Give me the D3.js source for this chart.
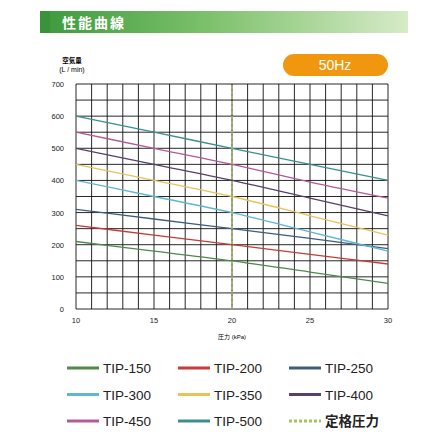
<!DOCTYPE html>
<html lang="ja">
<head>
<meta charset="UTF-8" />
<script src="https://d3js.org/d3.v7.min.js"></script>
<style>
  body { margin: 0; background: #fff; }
  text { font-family: "Liberation Sans", "Noto Sans CJK JP", sans-serif; }
</style>
</head>
<body>
<svg id="chart" width="445" height="445"></svg>
<script>
// data
const pressures = [10, 15, 20, 25, 30];
const models = ["TIP-150", "TIP-200", "TIP-250", "TIP-300", "TIP-350", "TIP-400", "TIP-450", "TIP-500"];
const colors = ["#4e8a4a", "#c83a3a", "#3e5c7e", "#5bb8d0", "#e6c45a", "#55416a", "#b35a98", "#3a9090"];
const flows = [
  [210, 180, 150, 115, 80],
  [260, 230, 200, 170, 140],
  [310, 280, 250, 220, 188],
  [400, 350, 300, 240, 180],
  [450, 400, 350, 290, 230],
  [500, 450, 400, 345, 290],
  [550, 500, 450, 395, 345],
  [600, 550, 500, 450, 400]
];
const yTicks = [0, 100, 200, 300, 400, 500, 600, 700];
const xTicks = [10, 15, 20, 25, 30];
const ratedPressure = 20;

const svg = d3.select("#chart");

// header bar
const grad = svg.append("defs").append("linearGradient").attr("id", "hg");
grad.append("stop").attr("offset", "0%").attr("stop-color", "#3c9a3c");
grad.append("stop").attr("offset", "45%").attr("stop-color", "#7cc06a");
grad.append("stop").attr("offset", "100%").attr("stop-color", "#d6ebc8");
svg.append("rect").attr("x", 40).attr("y", 11).attr("width", 368).attr("height", 22).attr("fill", "url(#hg)");
svg.append("rect").attr("x", 40).attr("y", 11).attr("width", 10).attr("height", 22).attr("fill", "#3a923a");
svg.append("text").attr("x", 62).attr("y", 28).attr("fill", "#fff")
  .attr("font-family", "Noto Sans CJK JP")
  .attr("font-size", 14).attr("font-weight", "bold").attr("letter-spacing", 2).text("性能曲線");

// 50Hz pill
svg.append("rect").attr("x", 283).attr("y", 54).attr("width", 105).attr("height", 22).attr("rx", 11)
  .attr("fill", "#f0960f");
svg.append("text").attr("x", 335).attr("y", 70).attr("text-anchor", "middle").attr("fill", "#fff")
  .attr("font-size", 14).text("50Hz");

const x = d3.scaleLinear().domain([10, 30]).range([76, 388]);
const y = d3.scaleLinear().domain([0, 700]).range([309, 84]);

// grid
const g = svg.append("g");
g.selectAll(".vl").data(d3.range(10, 31, 1)).enter().append("line")
  .attr("x1", d => x(d)).attr("x2", d => x(d)).attr("y1", y(0)).attr("y2", y(700))
  .attr("stroke", "#111").attr("stroke-width", 0.9);
g.selectAll(".hl").data(d3.range(0, 701, 50)).enter().append("line")
  .attr("x1", x(10)).attr("x2", x(30)).attr("y1", d => y(d)).attr("y2", d => y(d))
  .attr("stroke", "#111").attr("stroke-width", 0.9);

// axis labels
svg.selectAll(".yt").data(yTicks).enter().append("text")
  .attr("x", 64).attr("y", d => y(d) + 3).attr("text-anchor", "end")
  .attr("font-size", 7.5).attr("fill", "#222").text(d => d);
svg.selectAll(".xt").data(xTicks).enter().append("text")
  .attr("x", d => x(d)).attr("y", 323).attr("text-anchor", "middle")
  .attr("font-size", 7.5).attr("fill", "#222").text(d => d);
svg.append("text").attr("x", 72).attr("y", 63).attr("text-anchor", "middle").attr("font-size", 6.5)
  .attr("font-family", "Noto Sans CJK JP").attr("font-weight", "bold").text("空気量");
svg.append("text").attr("x", 72).attr("y", 72).attr("text-anchor", "middle").attr("font-size", 7).text("(L / min)");
svg.append("text").attr("x", 232).attr("y", 339).attr("text-anchor", "middle").attr("font-size", 6)
  .attr("font-family", "Noto Sans CJK JP").text("圧力 (kPa)");

// curves
const line = d3.line().x((d, i) => x(pressures[i])).y(d => y(d)).curve(d3.curveMonotoneX);
svg.selectAll(".curve").data(flows).enter().append("path")
  .attr("d", line).attr("fill", "none")
  .attr("stroke", (d, i) => colors[i]).attr("stroke-width", 1.3);

// rated pressure
svg.append("line").attr("x1", x(ratedPressure)).attr("x2", x(ratedPressure))
  .attr("y1", y(0)).attr("y2", y(700))
  .attr("stroke", "#a8c060").attr("stroke-width", 1.5).attr("stroke-dasharray", "3,2");

// legend
const legendItems = models.map((m, i) => ({ name: m, color: colors[i], dash: null }))
  .concat([{ name: "定格圧力", color: "#a8c060", dash: "3,2", bold: true }]);
const lg = svg.selectAll(".lg").data(legendItems).enter().append("g")
  .attr("transform", (d, i) => `translate(${67 + (i % 3) * 111},${368 + Math.floor(i / 3) * 26.5})`);
lg.append("line").attr("x1", 0).attr("x2", 32).attr("y1", 0).attr("y2", 0)
  .attr("stroke", d => d.color).attr("stroke-width", 3).attr("stroke-dasharray", d => d.dash);
lg.append("text").attr("x", 36).attr("y", 5).attr("font-size", 13.5)
  .attr("font-family", d => d.bold ? "Noto Sans CJK JP" : null)
  .attr("font-weight", d => d.bold ? "bold" : "normal").attr("fill", "#222").text(d => d.name);
</script>
</body>
</html>
